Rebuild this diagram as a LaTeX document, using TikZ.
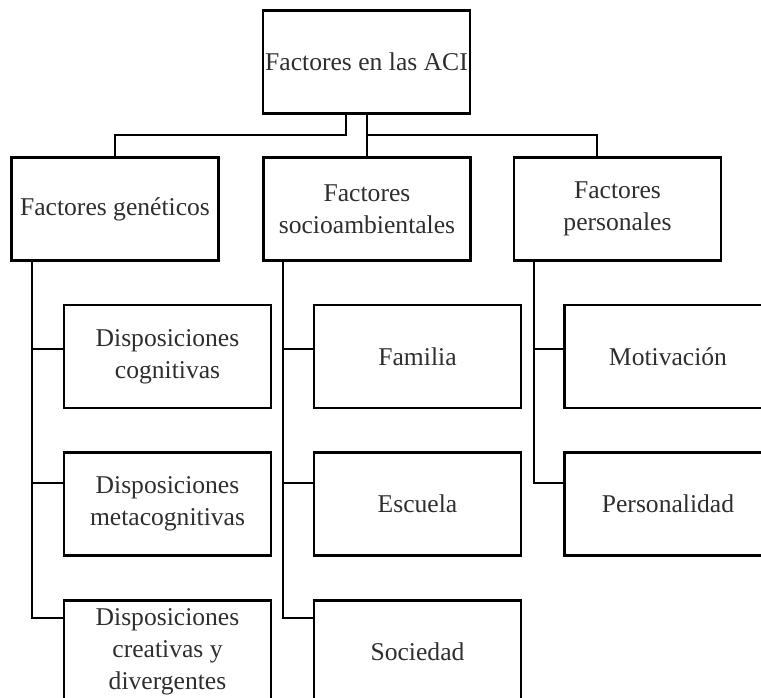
\documentclass[tikz,border=0pt]{standalone}
\usepackage{fontspec}
\setmainfont{Liberation Serif}
\begin{document}
\begin{tikzpicture}[x=1pt,y=-1pt,
  box/.style={draw=black,line width=2.4pt,rectangle,minimum width=207pt,minimum height=103pt,
    inner sep=0pt,align=center,text=black!82,font=\fontsize{25.6}{32}\selectfont},
  conn/.style={draw=black,line width=2pt}]
\useasboundingbox (0,0) rectangle (761,698);
\begin{scope}
\clip (0,0) rectangle (761,698);
\node[box] (top) at (366.5,62) {Factores en las ACI};
\node[box] (gen) at (115,209) {Factores genéticos};
\node[box] (soc) at (367,209) {Factores\\socioambientales};
\node[box] (per) at (617.5,209) {Factores\\personales};
\node[box] (a1) at (167.5,356.5) {Disposiciones\\cognitivas};
\node[box] (a2) at (167.5,504) {Disposiciones\\metacognitivas};
\node[box] (a3) at (167.5,652) {Disposiciones\\creativas y\\divergentes};
\node[box] (b1) at (417.5,356.5) {Familia};
\node[box] (b2) at (417.5,504) {Escuela};
\node[box] (b3) at (417.5,652) {Sociedad};
\node[box] (c1) at (668,356.5) {Motivación};
\node[box] (c2) at (668,504) {Personalidad};
\end{scope}
% top connectors
\coordinate (tl) at ([xshift=-20.5pt]top.south);
\coordinate (pr) at ([xshift=-21pt]per.north);
\draw[conn] (tl) -- ++(0,20) -| (gen.north);
\draw[conn] (top.south) -- (top.south |- soc.north);
\draw[conn] ([yshift=-20pt]top.south) -| (pr);
% trunks
\coordinate (gt) at ([xshift=21.3pt]gen.south west);
\coordinate (st) at ([xshift=20.3pt]soc.south west);
\coordinate (pt) at ([xshift=21.3pt]per.south west);
\coordinate (ga1) at ([yshift=7.5pt]a1.west);
\coordinate (ga2) at ([yshift=21pt]a2.west);
\coordinate (ga3) at ([yshift=34pt]a3.west);
\coordinate (gb1) at ([yshift=7.5pt]b1.west);
\coordinate (gb2) at ([yshift=21pt]b2.west);
\coordinate (gb3) at ([yshift=34pt]b3.west);
\coordinate (gc1) at ([yshift=7.5pt]c1.west);
\coordinate (gc2) at ([yshift=21pt]c2.west);
\draw[conn] (gt) |- (ga3);
\draw[conn] (gt |- ga1) -- (ga1);
\draw[conn] (gt |- ga2) -- (ga2);
\draw[conn] (st) |- (gb3);
\draw[conn] (st |- gb1) -- (gb1);
\draw[conn] (st |- gb2) -- (gb2);
\draw[conn] (pt) |- (gc2);
\draw[conn] (pt |- gc1) -- (gc1);
\end{tikzpicture}
\end{document}
